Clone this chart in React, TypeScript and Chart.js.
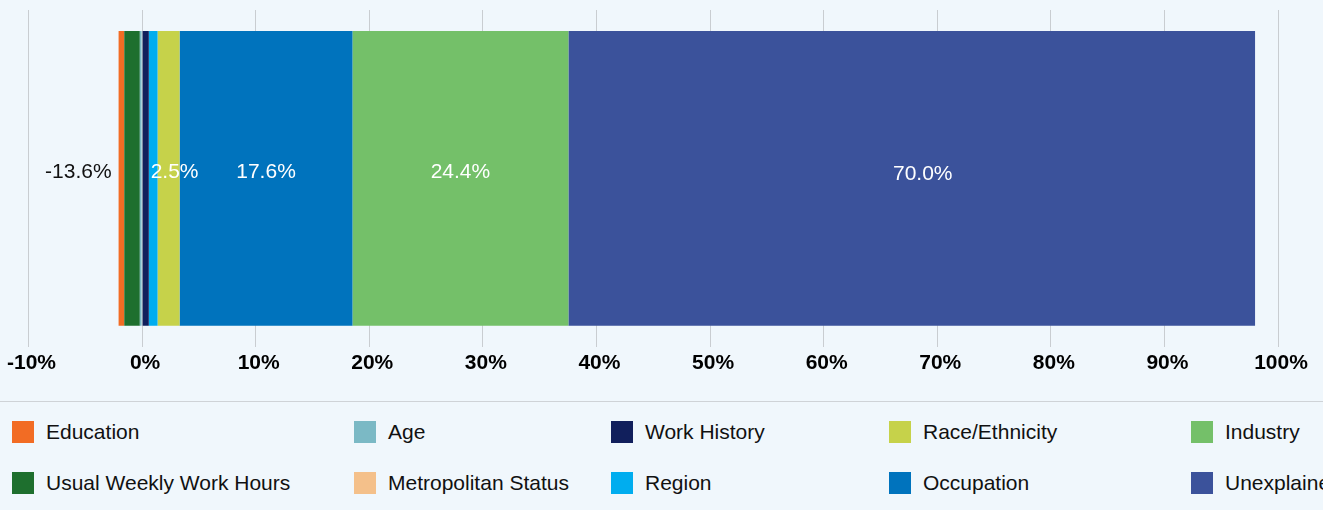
import React, { useEffect, useRef } from "react";
import { Chart, registerables } from "chart.js";

Chart.register(...registerables);

// Data (stack order: negatives stack outward from zero in this order, positives left to right)
const categories = ["Gap"];
const seriesNames = [
  "Age",
  "Usual Weekly Work Hours",
  "Education",
  "Metropolitan Status",
  "Work History",
  "Region",
  "Race/Ethnicity",
  "Occupation",
  "Industry",
  "Unexplained",
];
const seriesValues = [-0.2, -1.37, -0.5, 0, 0.59, 0.77, 1.94, 15.22, 19.01, 60.45];
const seriesColors = [
  "#7bb9c5",
  "#1e6f2e",
  "#f26c24",
  "#f4c08a",
  "#111f5c",
  "#00adef",
  "#c6d24a",
  "#0073bd",
  "#74c069",
  "#3b529b",
];
const dataLabelTexts = ["", "", "-13.6%", "", "", "", "2.5%", "17.6%", "24.4%", "70.0%"];
const legendOrder = [
  "Education",
  "Age",
  "Work History",
  "Race/Ethnicity",
  "Industry",
  "Usual Weekly Work Hours",
  "Metropolitan Status",
  "Region",
  "Occupation",
  "Unexplained",
];
const axisMin = -10;
const axisMax = 100;
const axisStep = 10;

const FONT = '"Liberation Sans", Arial, sans-serif';
const BG = "#f0f7fc";

const labelShift: Record<string, [number, number]> = {
  "Race/Ethnicity": [6, 0],
  Unexplained: [11, 2],
};

const dataLabelPlugin = {
  id: "dataLabelPlugin",
  afterDatasetsDraw(chart: any) {
    const ctx = chart.ctx;
    ctx.save();
    ctx.font = `21px ${FONT}`;
    ctx.textBaseline = "middle";
    chart.data.datasets.forEach((ds: any, i: number) => {
      const text = dataLabelTexts[i];
      if (!text) return;
      const el = chart.getDatasetMeta(i).data[0] as any;
      if (!el) return;
      const left = Math.min(el.x, el.base);
      const right = Math.max(el.x, el.base);
      const yc = el.y - 6;
      if (seriesValues[i] < 0) {
        ctx.fillStyle = "#111111";
        ctx.textAlign = "right";
        ctx.fillText(text, left - 7, yc);
      } else {
        const sh = labelShift[ds.label] || [0, 0];
        ctx.fillStyle = "#ffffff";
        ctx.textAlign = "center";
        ctx.fillText(text, (left + right) / 2 + sh[0], yc + sh[1]);
      }
    });
    ctx.restore();
  },
};

export default function App() {
  const ref = useRef<HTMLCanvasElement>(null);

  useEffect(() => {
    if (!ref.current) return;
    const chart = new Chart(ref.current, {
      type: "bar",
      data: {
        labels: categories,
        datasets: seriesNames.map((name, i) => ({
          label: name,
          data: [seriesValues[i]],
          backgroundColor: seriesColors[i],
          borderWidth: 0,
          categoryPercentage: 1,
          barPercentage: 0.875,
        })),
      },
      options: {
        indexAxis: "y",
        responsive: false,
        animation: false,
        devicePixelRatio: 1,
        layout: { padding: { left: 28, right: 45, top: 10, bottom: 20 } },
        plugins: {
          legend: { display: false },
          tooltip: { enabled: false },
        },
        scales: {
          x: {
            type: "linear",
            stacked: true,
            min: axisMin,
            max: axisMax,
            border: { display: false },
            grid: { color: "#c9cdd1", lineWidth: 1, drawTicks: false },
            ticks: {
              stepSize: axisStep,
              padding: 4,
              labelOffset: 3,
              color: "#000000",
              font: { family: FONT, size: 21, weight: "bold" },
              callback: (v: any) => `${v}%`,
            },
          },
          y: {
            stacked: true,
            display: false,
          },
        },
      } as any,
      plugins: [dataLabelPlugin],
    });
    return () => chart.destroy();
  }, []);

  const colorOf = (name: string) => seriesColors[seriesNames.indexOf(name)];

  return (
    <div
      style={{
        position: "fixed",
        left: 0,
        top: 0,
        width: 1323,
        height: 510,
        background: BG,
        overflow: "hidden",
        fontFamily: FONT,
      }}
    >
      <div style={{ position: "absolute", left: 0, top: 0, width: 1323, height: 400 }}>
        <canvas ref={ref} width={1323} height={400} style={{ display: "block" }} />
      </div>
      <div
        style={{
          position: "absolute",
          left: 0,
          top: 401,
          width: 1323,
          height: 1,
          background: "#cfd3d7",
        }}
      />
      <div
        style={{
          position: "absolute",
          left: 12,
          top: 406,
          width: 1400,
          display: "grid",
          gridTemplateColumns: "342px 257px 278px 302px 300px",
          gridAutoRows: "51px",
          alignItems: "center",
        }}
      >
        {legendOrder.map((name) => (
          <div
            key={name}
            style={{ display: "flex", alignItems: "center", whiteSpace: "nowrap" }}
          >
            <span
              style={{
                display: "inline-block",
                width: 22,
                height: 22,
                background: colorOf(name),
                marginRight: 12,
                flex: "none",
              }}
            />
            <span style={{ fontSize: 21, color: "#111111", lineHeight: "24px" }}>{name}</span>
          </div>
        ))}
      </div>
    </div>
  );
}
